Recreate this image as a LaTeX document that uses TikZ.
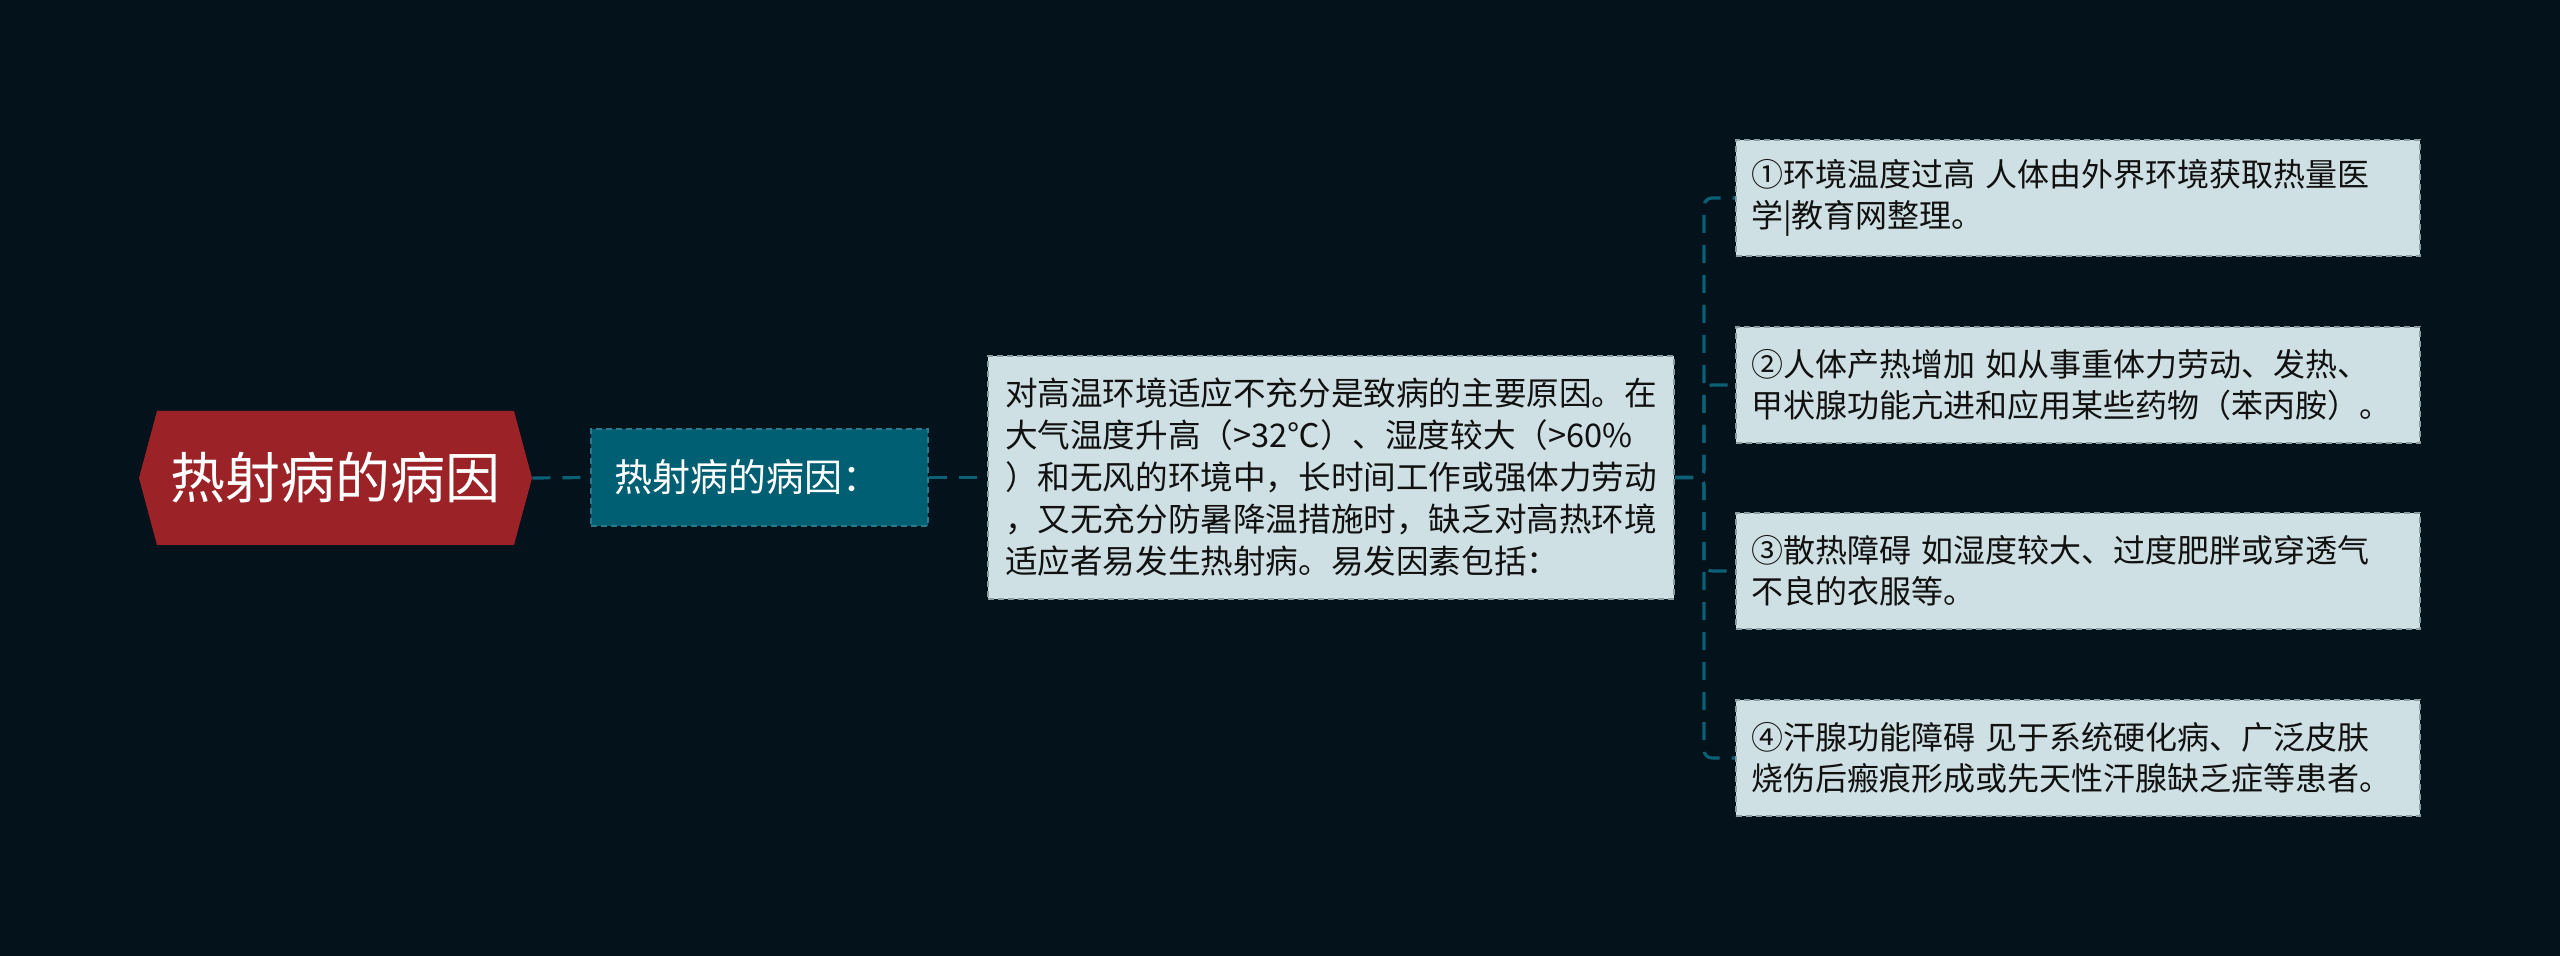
\documentclass[tikz,border=0pt]{standalone}
\usepackage{fontspec}
\newfontfamily\cjk{Noto Sans CJK SC}
\definecolor{bg}{HTML}{03121B}
\definecolor{rootred}{HTML}{9B2226}
\definecolor{teal1}{HTML}{005F73}
\definecolor{teal1border}{HTML}{2A7A8C}
\definecolor{lightfill}{HTML}{CFE0E4}
\definecolor{lightborder}{HTML}{8C9DA2}
\definecolor{linkcol}{HTML}{0B6075}
\definecolor{darktext}{HTML}{111111}
\tikzset{
  rootnode/.style={font=\cjk\fontsize{27.5pt}{33pt}\selectfont, text=white, minimum width=196.5pt, minimum height=67pt, inner sep=0pt},
  levelone/.style={font=\cjk\fontsize{19pt}{23pt}\selectfont, text=white, fill=teal1, draw=teal1border, line width=1pt, dash pattern=on 3pt off 2pt, text width=145.5pt, align=left, inner xsep=11.5pt, minimum height=48.5pt},
  leveltwo/.style={font=\cjk\fontsize{16.3pt}{21pt}\selectfont, text=darktext, fill=lightfill, draw=lightborder, line width=1pt, dash pattern=on 3pt off 2pt, text width=326pt, align=left, inner xsep=8.5pt, minimum height=121.5pt},
  levelthree/.style={font=\cjk\fontsize{16pt}{20.5pt}\selectfont, text=darktext, fill=lightfill, draw=lightborder, line width=1pt, dash pattern=on 3pt off 2pt, text width=327pt, align=left, inner xsep=7.5pt, minimum height=58pt},
  link/.style={draw=linkcol, line width=1.6pt, dash pattern=on 9pt off 6pt},
  elbow/.style={link, rounded corners=4pt}
}
\begin{document}
\begin{tikzpicture}[x=0.5pt,y=-0.5pt]
\fill[bg] (0,0) rectangle (2560,956);
\useasboundingbox (0,0) rectangle (2560,956);

% root hexagon
\fill[rootred] (139,478) -- (157,411) -- (514,411) -- (532,478) -- (514,545) -- (157,545) -- cycle;
\node[rootnode] (root) at (335.5,478) {热射病的病因};

\node[levelone] (l1) at (759.5,477.5) {热射病的病因：};

\node[leveltwo] (l2) at (1331,477.5) {对高温环境适应不充分是致病的主要原因。在\\大气温度升高（>32℃）、湿度较大（>60\%\\）和无风的环境中，长时间工作或强体力劳动\\，又无充分防暑降温措施时，缺乏对高热环境\\适应者易发生热射病。易发因素包括：};

\node[levelthree] (c1) at (2078,198) {①环境温度过高 人体由外界环境获取热量医\\学|教育网整理。};
\node[levelthree] (c2) at (2078,385) {②人体产热增加 如从事重体力劳动、发热、\\甲状腺功能亢进和应用某些药物（苯丙胺）。};
\node[levelthree] (c3) at (2078,571) {③散热障碍 如湿度较大、过度肥胖或穿透气\\不良的衣服等。};
\node[levelthree] (c4) at (2078,758) {④汗腺功能障碍 见于系统硬化病、广泛皮肤\\烧伤后瘢痕形成或先天性汗腺缺乏症等患者。};

\draw[link] (root.east) -- (l1.west);
\draw[link] (l1.east) -- (l2.west);

\coordinate (trunk) at (1704,477.5);
\draw[elbow] (l2.east) -- (trunk) |- (c1.west);
\draw[elbow] (l2.east) -- (trunk) |- (c2.west);
\draw[elbow] (l2.east) -- (trunk) |- (c3.west);
\draw[elbow] (l2.east) -- (trunk) |- (c4.west);
\end{tikzpicture}
\end{document}
